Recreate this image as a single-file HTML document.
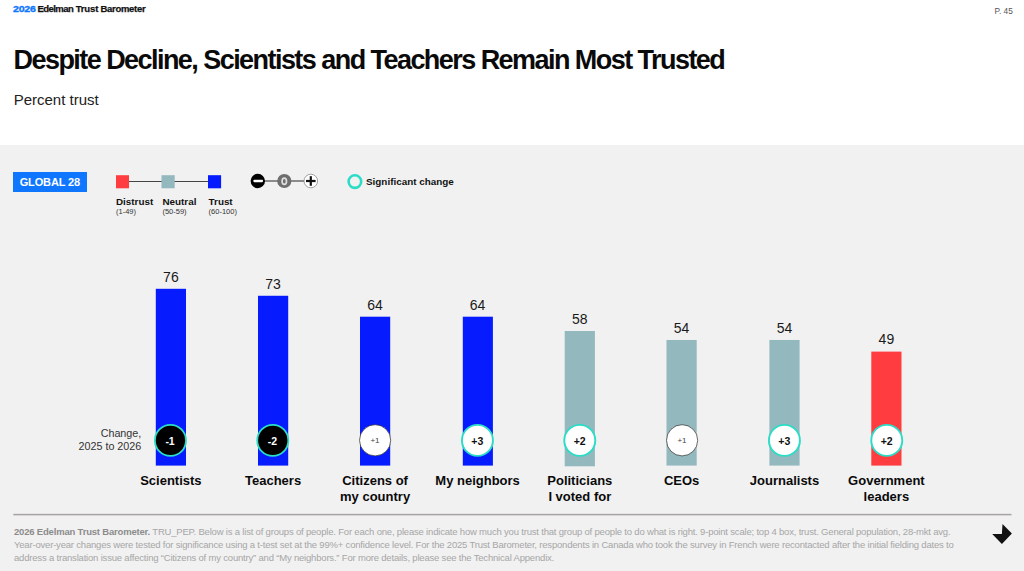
<!DOCTYPE html>
<html><head><meta charset="utf-8">
<style>
*{margin:0;padding:0;box-sizing:border-box}
html,body{width:1024px;height:571px;overflow:hidden;background:#fff;font-family:"Liberation Sans",sans-serif;color:#111}
.abs{position:absolute;white-space:nowrap}
#hdr{left:13px;top:3px;font-size:9.5px;font-weight:bold;line-height:12px;letter-spacing:-0.23px;color:#111}
#hdr span{top:0;-webkit-text-stroke:0.25px currentColor}
#pg{left:994.5px;top:6px;font-size:8.3px;line-height:10px;color:#555}
#title{left:13.5px;top:44px;transform:translateY(0.6px);font-size:27px;font-weight:bold;line-height:30px;letter-spacing:-1.55px;color:#0a0a0a}
#sub{left:13.7px;top:91px;font-size:15px;line-height:17px;color:#222}
#panel{left:0;top:145px;width:1024px;height:426px;background:#f1f1f1}
#badge{left:13px;top:172px;width:73.6px;height:20px;background:#0f77ff;color:#fff;font-size:11px;font-weight:bold;line-height:20px;text-align:center;letter-spacing:-0.15px}
.sq{width:13px;height:13px;top:175px}
.lgl{font-size:9.9px;font-weight:bold;line-height:11px;top:196px;color:#111;letter-spacing:-0.02px}
.lgs{font-size:7.5px;line-height:8px;top:207.9px;color:#333}
.bar{width:30px}
.val{font-size:14px;line-height:15px;width:60px;text-align:center;color:#1a1a1a}
.cat{font-size:13px;font-weight:bold;line-height:15.7px;width:110px;text-align:center;color:#0a0a0a;top:473px;white-space:normal}
.ct{width:40px;text-align:center;top:435px;line-height:13px;font-size:10.5px;font-weight:bold}
.cb{color:#fff}
.cw{color:#111}
.cn{color:#444;font-size:8px;font-weight:normal;top:434px}
#chg{left:41.3px;top:427px;width:100px;text-align:right;font-size:10.75px;line-height:13px;color:#333;white-space:normal}
#foot{left:14px;top:526px;font-size:9.5px;line-height:12.75px;color:#a6a6a6;letter-spacing:-0.19px}
#foot b{color:#8c8c8c}
</style></head><body>
<div class="abs" id="hdr"><span class="abs" style="left:-0.4px;color:#0f77ff;transform:scaleX(1.12);transform-origin:0 0;-webkit-text-stroke:0.35px #0f77ff">2026</span><span class="abs" style="left:24.6px;letter-spacing:-0.58px">Edelman</span><span class="abs" style="left:62.7px;letter-spacing:-0.15px">Trust</span><span class="abs" style="left:87.5px;letter-spacing:-0.3px">Barometer</span></div>
<div class="abs" id="pg">P. 45</div>
<div class="abs" id="title">Despite Decline, Scientists and Teachers Remain Most Trusted</div>
<div class="abs" id="sub">Percent trust</div>
<div class="abs" id="panel"></div>
<div class="abs" id="badge">GLOBAL 28</div>

<!-- legend -->
<svg class="abs" style="left:110px;top:170px" width="120" height="24" viewBox="110 170 120 24">
  <rect x="122" y="181" width="92" height="1" fill="#444"/>
  <rect x="116" y="175.2" width="13" height="13.1" fill="#ff3d41"/>
  <rect x="161.5" y="175.2" width="13.2" height="13.1" fill="#93b8be"/>
  <rect x="208" y="175.2" width="13.1" height="13.1" fill="#061cff"/>
</svg>
<div class="abs lgl" style="left:116px">Distrust</div>
<div class="abs lgl" style="left:162.5px">Neutral</div>
<div class="abs lgl" style="left:208.6px">Trust</div>
<div class="abs lgs" style="left:116px">(1-49)</div>
<div class="abs lgs" style="left:162.4px">(50-59)</div>
<div class="abs lgs" style="left:208.6px">(60-100)</div>

<svg class="abs" style="left:248px;top:170px" width="120" height="24" viewBox="248 170 120 24">
  <line x1="258" y1="181" x2="311" y2="181" stroke="#686868" stroke-width="1.7"/>
  <circle cx="257.8" cy="181" r="7.2" fill="#000"/>
  <rect x="253.3" y="179.8" width="9.8" height="2.4" rx="1.1" fill="#fff"/>
  <circle cx="284.3" cy="181" r="7.1" fill="#6e6e6e"/>
  <ellipse cx="284.3" cy="181.2" rx="2.2" ry="3.15" fill="none" stroke="#dedede" stroke-width="1.7"/>
  <circle cx="310.8" cy="181" r="6.8" fill="#fff" stroke="#8a8a8a" stroke-width="0.8"/>
  <rect x="306" y="179.9" width="9.6" height="2.2" fill="#111"/>
  <rect x="309.7" y="176.2" width="2.2" height="9.6" fill="#111"/>
  <circle cx="354.9" cy="181.6" r="6.3" fill="none" stroke="#2bdcc6" stroke-width="2.6"/>
</svg>
<div class="abs" style="left:366px;top:175.5px;font-size:9.9px;font-weight:bold;line-height:12px;color:#111">Significant change</div>

<!-- bars -->
<svg class="abs" style="left:0;top:250px" width="1024" height="230" viewBox="0 250 1024 230">
<rect x="155.80" y="288.79" width="30.2" height="176.81" fill="#061cff"/>
<circle cx="170.45" cy="440.4" r="15.55" fill="#000" stroke="#2bdcc6" stroke-width="1.8"/>
<rect x="258.00" y="295.77" width="30.2" height="169.83" fill="#061cff"/>
<circle cx="272.78" cy="440.4" r="15.55" fill="#000" stroke="#2bdcc6" stroke-width="1.8"/>
<rect x="360.00" y="316.70" width="30.2" height="148.90" fill="#061cff"/>
<circle cx="375.11" cy="440.3" r="15.6" fill="#fff" stroke="#2a2a2a" stroke-width="0.7"/>
<rect x="462.80" y="316.70" width="30.1" height="148.90" fill="#061cff"/>
<circle cx="477.44" cy="440.4" r="15.5" fill="#fff" stroke="#2bdcc6" stroke-width="1.9"/>
<rect x="564.70" y="331.01" width="30.2" height="135.29" fill="#93b8be"/>
<circle cx="579.77" cy="440.4" r="15.5" fill="#fff" stroke="#2bdcc6" stroke-width="1.9"/>
<rect x="666.50" y="339.97" width="30.2" height="125.63" fill="#93b8be"/>
<circle cx="682.10" cy="440.3" r="15.6" fill="#fff" stroke="#2a2a2a" stroke-width="0.7"/>
<rect x="769.40" y="339.97" width="30.2" height="125.63" fill="#93b8be"/>
<circle cx="784.43" cy="440.4" r="15.5" fill="#fff" stroke="#2bdcc6" stroke-width="1.9"/>
<rect x="871.30" y="351.60" width="30.2" height="114.00" fill="#ff3d41"/>
<circle cx="886.76" cy="440.4" r="15.5" fill="#fff" stroke="#2bdcc6" stroke-width="1.9"/>
</svg>
<div class="abs val" style="left:140.90px;top:269.59px">76</div>
<div class="abs ct cb" style="left:150.05px">-1</div>
<div class="abs cat" style="left:115.90px">Scientists</div>
<div class="abs val" style="left:243.10px;top:276.57px">73</div>
<div class="abs ct cb" style="left:252.38px">-2</div>
<div class="abs cat" style="left:218.10px">Teachers</div>
<div class="abs val" style="left:345.10px;top:297.50px">64</div>
<div class="abs ct cn" style="left:355.01px">+1</div>
<div class="abs cat" style="left:320.10px">Citizens of<br>my country</div>
<div class="abs val" style="left:447.60px;top:297.50px">64</div>
<div class="abs ct cw" style="left:457.34px">+3</div>
<div class="abs cat" style="left:422.60px">My neighbors</div>
<div class="abs val" style="left:549.80px;top:312.31px">58</div>
<div class="abs ct cw" style="left:559.67px">+2</div>
<div class="abs cat" style="left:524.80px">Politicians<br>I voted for</div>
<div class="abs val" style="left:651.60px;top:320.77px">54</div>
<div class="abs ct cn" style="left:662.00px">+1</div>
<div class="abs cat" style="left:626.60px">CEOs</div>
<div class="abs val" style="left:754.50px;top:320.77px">54</div>
<div class="abs ct cw" style="left:764.33px">+3</div>
<div class="abs cat" style="left:729.50px">Journalists</div>
<div class="abs val" style="left:856.40px;top:332.40px">49</div>
<div class="abs ct cw" style="left:866.66px">+2</div>
<div class="abs cat" style="left:831.40px">Government<br>leaders</div>
<div class="abs" id="chg">Change,<br>2025 to 2026</div>

<svg class="abs" style="left:0;top:510px" width="1024" height="10" viewBox="0 510 1024 10"><rect x="13.3" y="513.85" width="998.2" height="1.5" fill="#a6a4a2"/></svg>
<div class="abs" id="foot"><b>2026 Edelman Trust Barometer.</b> TRU_PEP. Below is a list of groups of people. For each one, please indicate how much you trust that group of people to do what is right. 9-point scale; top 4 box, trust. General population, 28-mkt avg.<br>Year-over-year changes were tested for significance using a t-test set at the 99%+ confidence level. For the 2025 Trust Barometer, respondents in Canada who took the survey in French were recontacted after the initial fielding dates to<br>address a translation issue affecting “Citizens of my country” and “My neighbors.” For more details, please see the Technical Appendix.</div>
<svg class="abs" style="left:990px;top:522px" width="24" height="24" viewBox="990 522 24 24">
  <polygon points="1002.5,524 1011.9,533.6 1001.9,544 992.2,533.9 1001.9,533.9" fill="#111"/>
</svg>
</body></html>
